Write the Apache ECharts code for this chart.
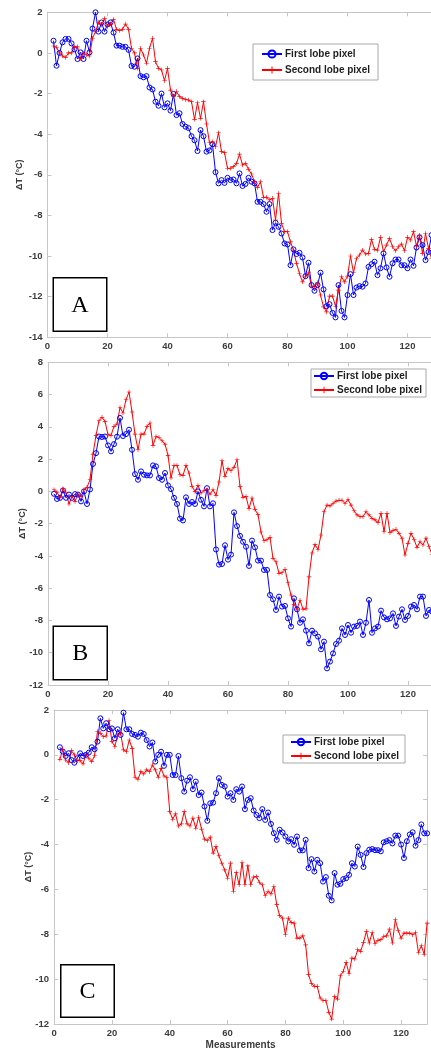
<!DOCTYPE html>
<html>
<head>
<meta charset="utf-8">
<script src="https://cdn.jsdelivr.net/npm/echarts@6/dist/echarts.min.js"></script>
<style>
html,body{margin:0;padding:0;background:#fff;}
#c{width:431px;height:1051px;}
</style>
</head>
<body>
<div id="c"></div>
<script>
// ---- data (measurement index 2..128 for A/B, 2..129 for C) ----
const seriesNames = ['First lobe pixel', 'Second lobe pixel'];
const panelLetters = ['A', 'B', 'C'];
const xTicks = [0, 20, 40, 60, 80, 100, 120];
const yTicksA = [2, 0, -2, -4, -6, -8, -10, -12, -14];
const yTicksB = [8, 6, 4, 2, 0, -2, -4, -6, -8, -10, -12];
const yTicksC = [2, 0, -2, -4, -6, -8, -10, -12];

const firstA = [0.6,-0.63,0.0,0.52,0.69,0.69,0.47,0.18,-0.3,0.03,-0.3,0.6,0.03,1.2,2.0,1.05,1.5,1.05,1.4,1.5,1.0,0.36,0.36,0.3,0.3,0.15,-0.64,-0.68,-0.27,-1.14,-1.2,-1.14,-1.7,-1.8,-2.4,-2.6,-2.0,-2.68,-2.48,-2.84,-2.02,-3.06,-2.97,-3.5,-3.63,-3.7,-4.1,-4.3,-4.83,-3.8,-4.1,-4.86,-4.8,-4.5,-5.87,-6.42,-6.26,-6.4,-6.15,-6.26,-6.23,-6.42,-5.93,-6.55,-6.45,-6.15,-6.34,-6.42,-7.33,-7.33,-7.44,-7.82,-7.44,-8.72,-8.36,-8.56,-8.89,-9.38,-9.43,-10.45,-9.67,-9.9,-9.84,-10.07,-10.99,-10.33,-11.43,-11.71,-11.43,-10.82,-11.64,-12.47,-12.37,-12.8,-13.02,-11.43,-12.7,-13.02,-11.92,-10.89,-11.92,-11.55,-11.48,-11.51,-11.35,-10.53,-10.4,-10.28,-10.94,-10.6,-9.87,-10.56,-11.02,-10.36,-10.17,-10.17,-10.45,-10.45,-10.6,-10.17,-10.48,-9.58,-9.08,-9.46,-10.2,-9.8,-8.97];
const secondA = [0.34,0.28,0.0,-0.15,-0.22,0.0,0.0,0.3,0.3,-0.27,0.0,-0.1,-0.15,0.72,1.05,1.5,1.38,1.7,1.3,1.42,1.65,1.16,1.1,1.16,1.42,1.16,0.23,0.0,-0.76,0.23,-0.1,-0.51,0.23,0.72,-0.43,-0.76,-0.84,-1.37,-0.76,-1.83,-2.15,-1.9,-2.15,-2.24,-2.29,-2.32,-2.4,-3.27,-2.45,-3.22,-2.4,-3.5,-4.42,-4.37,-4.62,-3.93,-4.86,-4.91,-5.68,-5.68,-5.6,-5.44,-4.98,-5.52,-5.44,-5.73,-5.96,-6.34,-6.62,-6.34,-7.11,-7.11,-7.24,-7.16,-8.23,-6.92,-8.39,-8.8,-8.8,-9.3,-9.71,-10.36,-10.86,-11.27,-11.02,-10.82,-11.48,-11.51,-11.32,-11.92,-12.5,-12.75,-11.97,-11.97,-12.47,-11.68,-11.02,-11.27,-10.99,-10.0,-10.82,-10.12,-9.95,-9.71,-9.9,-9.87,-9.18,-9.67,-9.71,-9.08,-9.79,-9.46,-9.13,-9.54,-9.74,-9.54,-9.41,-9.74,-9.08,-9.21,-8.8,-9.51,-8.97,-9.87,-8.89,-9.62,-10.12];

const firstB = [-0.15,-0.47,-0.4,0.06,-0.4,-0.2,-0.4,-0.17,-0.2,-0.62,0.0,-0.78,0.12,1.7,2.37,3.4,3.37,3.4,2.85,2.48,2.93,3.39,4.55,3.43,3.55,3.82,2.58,1.07,0.72,1.24,1.03,0.99,0.99,1.61,1.55,0.83,0.72,1.14,0.37,0.14,-0.4,-0.78,-1.69,-1.8,-0.37,-0.78,-0.66,-0.78,0.0,-0.52,-0.93,0.2,-0.93,-0.74,-3.6,-4.54,-4.5,-3.34,-4.23,-3.92,-1.3,-2.15,-2.76,-3.12,-3.43,-4.62,-3.05,-3.47,-4.29,-4.29,-4.87,-4.87,-6.42,-6.69,-7.35,-6.52,-7.14,-7.1,-7.87,-8.38,-6.63,-7.31,-8.14,-7.93,-8.63,-9.42,-8.63,-8.8,-9.0,-9.79,-9.31,-10.97,-10.55,-10.04,-9.46,-9.25,-8.49,-8.9,-8.28,-8.76,-8.38,-8.34,-8.07,-8.9,-8.14,-6.73,-8.76,-8.49,-8.38,-7.39,-7.81,-7.93,-7.87,-7.56,-8.34,-7.76,-7.31,-7.97,-7.72,-7.14,-7.04,-7.31,-6.52,-6.52,-7.72,-7.35,-7.45];
const secondB = [0.1,-0.05,-0.37,0.17,-0.1,-0.78,-0.31,-0.62,-0.17,-0.31,0.1,0.25,0.72,2.31,3.47,4.38,4.59,4.34,3.51,3.47,4.03,4.17,5.2,4.86,5.68,6.16,4.92,3.55,2.58,3.55,3.55,4.03,4.24,2.85,3.4,3.34,3.14,2.93,2.23,0.83,1.61,1.61,1.03,0.99,1.61,1.14,0.31,0.0,0.37,-0.1,0.04,0.1,-0.17,0.1,-0.25,0.58,1.9,0.93,1.41,1.28,1.49,1.96,0.31,-0.37,-0.31,-1.07,-0.41,-1.13,-1.44,-2.52,-3.06,-3.0,-2.85,-4.15,-4.36,-5.08,-5.04,-4.83,-5.66,-6.42,-7.0,-7.3,-6.75,-7.3,-7.28,-5.3,-3.82,-3.3,-3.6,-2.7,-1.25,-0.85,-0.9,-0.75,-0.6,-0.55,-0.55,-0.75,-0.5,-0.85,-1.2,-1.46,-1.57,-1.57,-1.26,-1.46,-1.67,-1.77,-1.94,-1.36,-2.5,-1.36,-2.56,-2.43,-2.35,-2.6,-2.9,-3.94,-3.22,-2.6,-2.97,-3.47,-3.12,-3.32,-2.9,-3.43,-3.9];

const firstC = [0.34,0.15,-0.05,0.07,-0.23,-0.35,-0.15,0.07,-0.05,0.0,0.1,0.34,0.25,0.59,1.63,1.18,1.41,1.14,1.18,0.74,1.14,0.89,1.88,1.14,1.14,0.93,0.89,0.81,0.99,0.93,0.66,0.37,0.55,-0.3,0.0,0.14,-0.49,0.0,0.0,-0.9,-0.9,-0.05,-1.04,-1.64,-1.15,-1.0,-1.53,-1.19,-1.79,-1.68,-2.3,-2.94,-2.16,-2.13,-1.71,-1.04,-1.34,-1.41,-1.86,-1.71,-2.01,-1.53,-1.64,-1.41,-2.42,-2.01,-1.93,-2.48,-2.68,-2.82,-2.42,-2.9,-2.57,-3.08,-3.49,-3.79,-3.34,-3.46,-3.64,-3.86,-3.76,-4.01,-3.64,-4.26,-4.26,-3.79,-5.05,-4.65,-5.2,-4.68,-4.83,-5.65,-5.45,-6.28,-6.49,-5.27,-5.79,-5.75,-5.54,-5.5,-5.35,-4.83,-4.98,-4.09,-4.46,-5.0,-4.38,-4.23,-4.2,-4.25,-4.25,-4.3,-3.9,-3.85,-3.8,-3.95,-3.6,-3.6,-4.0,-4.6,-3.85,-3.55,-3.45,-4.05,-3.8,-3.1,-3.5,-3.5];
const secondC = [-0.2,0.25,-0.23,-0.35,0.19,0.0,-0.26,-0.26,-0.4,0.0,-0.15,-0.3,-0.04,1.04,0.96,0.81,0.84,1.53,0.59,0.37,0.89,0.96,0.22,0.14,0.66,0.29,-1.0,-1.09,-0.75,-0.85,-0.67,-0.75,-0.45,-0.67,-1.0,-0.6,-0.94,-1.0,-2.53,-2.87,-2.63,-3.17,-3.08,-2.53,-3.08,-3.17,-2.82,-3.27,-2.78,-3.31,-3.76,-3.82,-3.67,-4.38,-4.09,-4.5,-4.83,-5.13,-5.5,-4.83,-6.09,-5.24,-5.79,-4.8,-5.79,-4.95,-5.79,-5.45,-5.42,-5.69,-5.79,-6.28,-6.09,-6.2,-5.87,-6.68,-7.17,-7.28,-8.02,-7.28,-7.47,-7.5,-8.17,-8.17,-8.07,-8.47,-9.8,-10.2,-10.32,-10.32,-10.84,-10.95,-10.95,-11.48,-11.78,-10.77,-10.89,-9.85,-9.65,-9.25,-9.76,-9.06,-9.1,-8.69,-8.76,-8.36,-7.87,-8.39,-7.92,-8.42,-8.27,-8.24,-8.1,-8.07,-7.77,-8.39,-7.35,-7.83,-8.17,-7.95,-7.95,-7.95,-8.02,-7.92,-8.81,-8.51,-8.9,-7.5];

const firstIndex = 2; // first measurement number

// ---- build ----
function pairs(vals) { return vals.map((v, i) => [firstIndex + i, v]); }

const BLUE = '#0000ff';
const RED = '#ff0000';
const FRAME = '#c6c6c6';
const LABEL = '#3c3c3c';
const plusPath = 'path://M-0.7,-5H0.7V5H-0.7Z M-5,-0.7H5V0.7H-5Z';

const panels = [
  { grid: {left: 47.5, top: 12.3, width: 390, height: 325}, xmax: 130, y: yTicksA, f: firstA, s: secondA, nameGap: 23,
    legend: {left: 253, top: 44, padding: [5, 8, 5, 8], itemGap: 6, itemHeight: 9},
    box: {x: 52.5, y: 277, w: 53.5, h: 53.5}, xname: '' },
  { grid: {left: 48, top: 362.3, width: 390, height: 322.7}, xmax: 130, y: yTicksB, f: firstB, s: secondB, nameGap: 21,
    legend: {left: 311, top: 369, padding: [2, 4, 2, 2], itemGap: 4, itemHeight: 8},
    box: {x: 52.5, y: 625.5, w: 54, h: 53.5}, xname: '' },
  { grid: {left: 54.1, top: 710, width: 373, height: 314}, xmax: 129, y: yTicksC, f: firstC, s: secondC, nameGap: 21,
    legend: {left: 283, top: 735, padding: [2, 6, 2, 7], itemGap: 4, itemHeight: 8},
    box: {x: 60, y: 964, w: 53.5, h: 52.5}, xname: 'Measurements' }
];

const option = {
  backgroundColor: '#fff',
  animation: false,
  grid: [], xAxis: [], yAxis: [], series: [], legend: [], graphic: []
};

const labelFont = {fontFamily: 'Liberation Sans, Arial, sans-serif', fontWeight: 'bold', fontSize: 9.5, color: LABEL};

panels.forEach((p, k) => {
  option.grid.push(Object.assign({show: false, containLabel: false, outerBoundsMode: 'none'}, p.grid));
  const ymin = Math.min.apply(null, p.y), ymax = Math.max.apply(null, p.y);
  option.xAxis.push({
    type: 'value', gridIndex: k, min: 0, max: p.xmax, interval: 20, position: 'bottom',
    name: p.xname, nameLocation: 'middle', nameGap: 16, nameMoveOverlap: false,
    nameTextStyle: {fontFamily: 'Liberation Sans, Arial, sans-serif', fontWeight: 'bold', fontSize: 10, color: LABEL},
    axisLine: {show: true, onZero: false, lineStyle: {color: FRAME, width: 1}},
    axisTick: {show: true, inside: true, length: 4, lineStyle: {color: FRAME}},
    axisLabel: Object.assign({margin: 4, formatter: v => (xTicks.indexOf(v) >= 0 ? String(v) : '')}, labelFont),
    splitLine: {show: false}
  });
  option.xAxis.push({
    type: 'value', gridIndex: k, min: 0, max: p.xmax, interval: 20, position: 'top',
    axisLine: {show: true, onZero: false, lineStyle: {color: FRAME, width: 1}},
    axisTick: {show: true, inside: true, length: 4, lineStyle: {color: FRAME}},
    axisLabel: {show: false}, splitLine: {show: false}
  });
  option.yAxis.push({
    type: 'value', gridIndex: k, min: ymin, max: ymax, interval: 2, position: 'left',
    name: 'ΔT (°C)', nameLocation: 'middle', nameGap: p.nameGap, nameRotate: 90, nameMoveOverlap: false,
    nameTextStyle: {fontFamily: 'Liberation Sans, Arial, sans-serif', fontWeight: 'bold', fontSize: 9, color: LABEL},
    axisLine: {show: true, onZero: false, lineStyle: {color: FRAME, width: 1}},
    axisTick: {show: true, inside: true, length: 4, lineStyle: {color: FRAME}},
    axisLabel: Object.assign({margin: 5}, labelFont),
    splitLine: {show: false}
  });
  option.yAxis.push({
    type: 'value', gridIndex: k, min: ymin, max: ymax, interval: 2, position: 'right',
    axisLine: {show: true, onZero: false, lineStyle: {color: FRAME, width: 1}},
    axisTick: {show: true, inside: true, length: 4, lineStyle: {color: FRAME}},
    axisLabel: {show: false}, splitLine: {show: false}
  });
  option.series.push({
    name: seriesNames[0], type: 'line', xAxisIndex: 2 * k, yAxisIndex: 2 * k,
    data: pairs(p.f), symbol: 'circle', symbolSize: 5, showAllSymbol: true,
    lineStyle: {color: BLUE, width: 1},
    itemStyle: {color: 'rgba(255,255,255,0)', borderColor: BLUE, borderWidth: 1},
    emphasis: {disabled: true}
  });
  option.series.push({
    name: seriesNames[1], type: 'line', xAxisIndex: 2 * k, yAxisIndex: 2 * k,
    data: pairs(p.s), symbol: plusPath, symbolSize: 4.5, showAllSymbol: true,
    lineStyle: {color: RED, width: 1}, itemStyle: {color: RED},
    emphasis: {disabled: true}
  });
  option.legend.push({
    data: seriesNames, orient: 'vertical', left: p.legend.left, top: p.legend.top,
    padding: p.legend.padding, itemGap: p.legend.itemGap, itemWidth: 20, itemHeight: p.legend.itemHeight,
    backgroundColor: '#fff', borderColor: '#a8a8a8', borderWidth: 1, borderRadius: 0,
    selectedMode: false,
    textStyle: {fontFamily: 'Liberation Sans, Arial, sans-serif', fontWeight: 'bold', fontSize: 10, color: '#1e1e1e', padding: [0, 0, 0, -2]}
  });
  option.graphic.push({
    type: 'group', left: p.box.x, top: p.box.y,
    children: [
      {type: 'rect', shape: {x: 0, y: 0, width: p.box.w, height: p.box.h}, style: {fill: '#fff', stroke: '#000', lineWidth: 1.5}},
      {type: 'text', x: p.box.w / 2, y: p.box.h / 2 + 1, style: {text: panelLetters[k], fill: '#000', font: '24px "Liberation Serif", "Times New Roman", serif', align: 'center', verticalAlign: 'middle'}}
    ]
  });
});

const chart = echarts.init(document.getElementById('c'), null, {renderer: 'canvas'});
chart.setOption(option);
</script>
</body>
</html>
